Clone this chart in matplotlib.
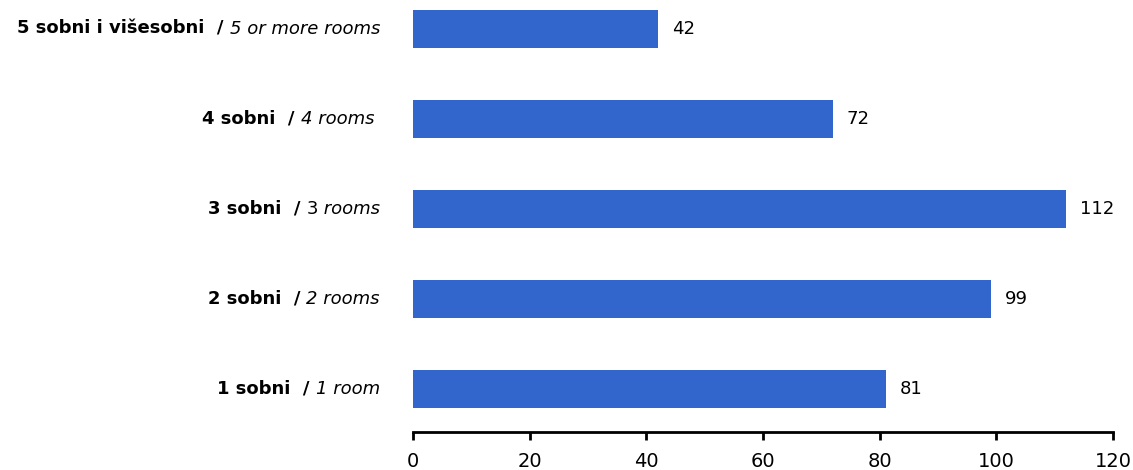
import matplotlib
matplotlib.use("Agg")
import matplotlib.pyplot as plt
from matplotlib.offsetbox import TextArea, HPacker, AnnotationBbox

plt.rcParams['font.family'] = ['DejaVu Sans']

bold_labels = ["1 sobni  /", "2 sobni  /", "3 sobni  /", "4 sobni  /", "5 sobni i višesobni  /"]
upright_num = ["", "", "3", "", ""]
italic_labels = ["1 room", "2 rooms", " rooms", "4 rooms ", "5 or more rooms"]
values = [81, 99, 112, 72, 42]
xticks = [0, 20, 40, 60, 80, 100, 120]

W, H = 1133, 470
fig = plt.figure(figsize=(W / 100, H / 100), dpi=100)
ax = fig.add_axes([413 / W, 38 / H, 700 / W, 432 / H])

ypos = list(range(len(values)))
ax.barh(ypos, values, height=0.42, color="#3366CC")
ax.set_xlim(0, 120)
ax.set_ylim(-0.478, 4.322)
ax.set_xticks(xticks)
ax.set_xticklabels([str(t) for t in xticks], fontsize=14)
ax.set_yticks([])
for s in ["top", "right", "left"]:
    ax.spines[s].set_visible(False)
ax.spines["bottom"].set_linewidth(2)
ax.tick_params(axis="x", direction="out", length=6, width=2, pad=8.5)

for y, v in zip(ypos, values):
    ax.annotate(str(v), xy=(v, y), xytext=(10, 0), textcoords="offset points",
                va="center", ha="left", fontsize=13)

fs = 13
for y, b, n, it in zip(ypos, bold_labels, upright_num, italic_labels):
    parts = [TextArea(b + " ", textprops=dict(fontsize=fs, fontweight="bold"))]
    if n:
        parts.append(TextArea(n, textprops=dict(fontsize=fs)))
    parts.append(TextArea(it, textprops=dict(fontsize=fs, fontstyle="italic")))
    box = HPacker(children=parts, align="baseline", pad=0, sep=0)
    ab = AnnotationBbox(box, xy=(0, y), xycoords=("axes fraction", "data"),
                        xybox=(-33, 0), boxcoords="offset pixels",
                        box_alignment=(1, 0.5), frameon=False, pad=0)
    ax.add_artist(ab)

fig.savefig("out.png", dpi=100)
